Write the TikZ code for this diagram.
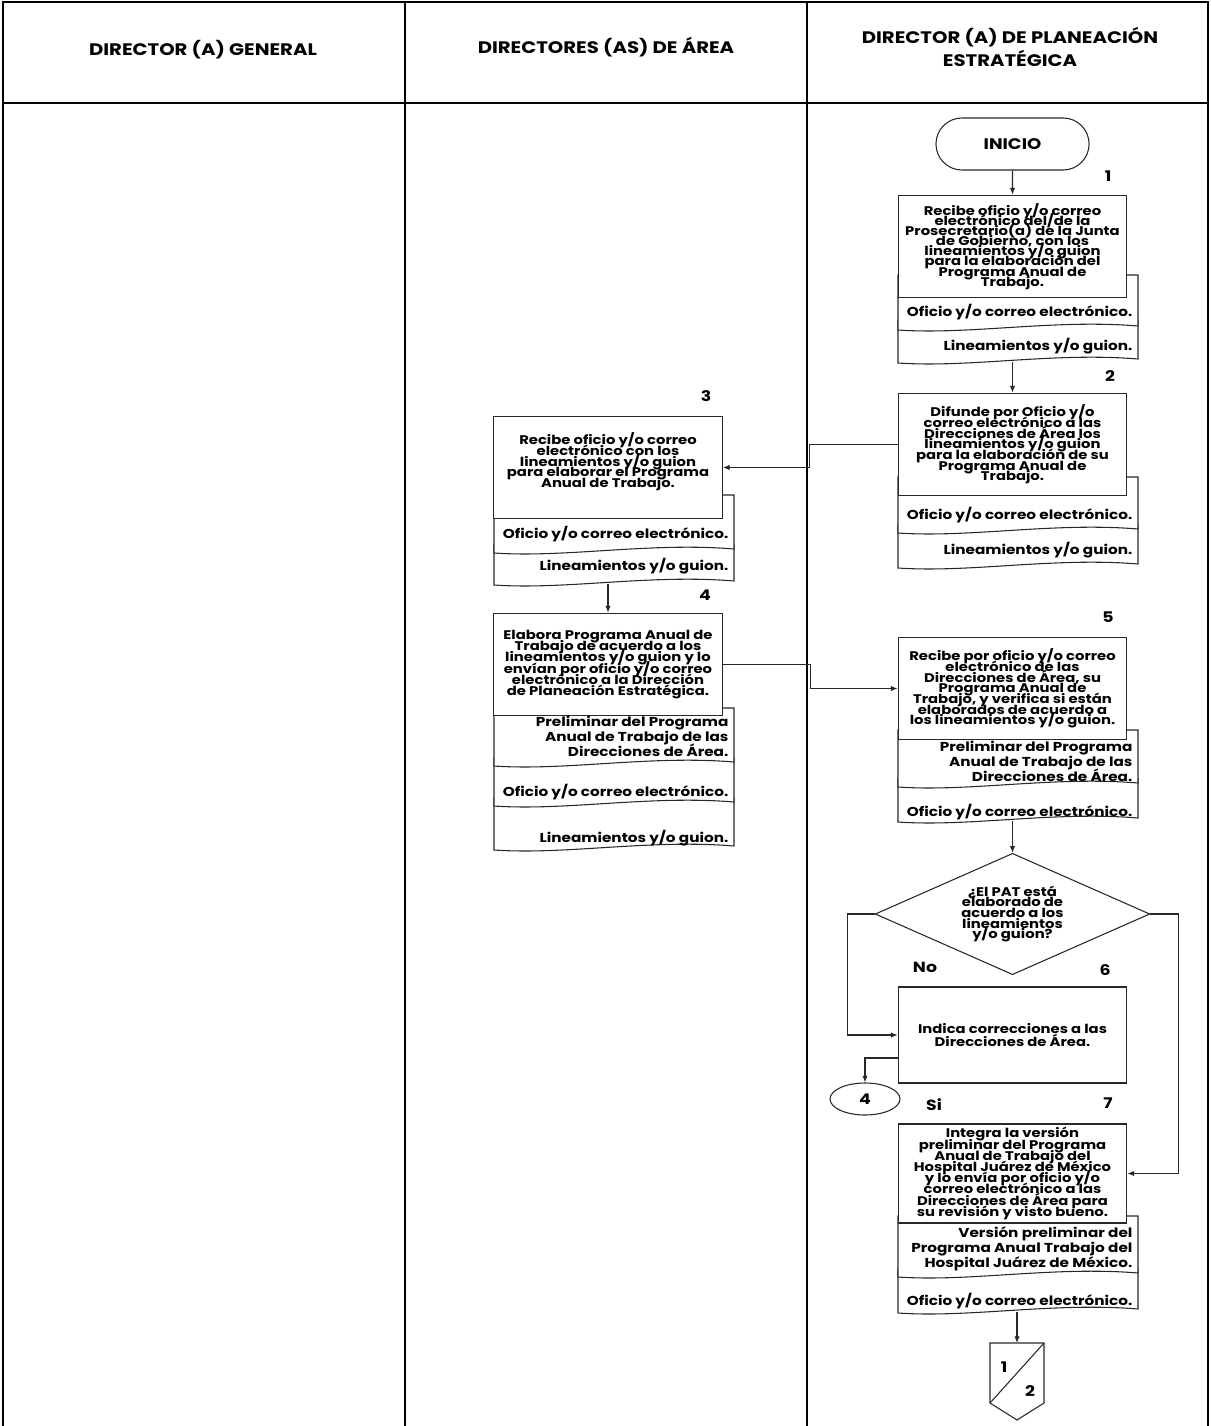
\documentclass[tikz,border=0pt]{standalone}
\usepackage{fontspec}
\setmainfont{Poppins}[FakeStretch=1.18]
\usetikzlibrary{arrows.meta,positioning,shapes.geometric,shapes.misc}
\definecolor{lineagris}{RGB}{40,40,40}

\newcommand{\tightlines}{\lineskiplimit -20pt\relax}
% document sheet with wavy lower edge: x1, ytop, x2, ybottom
\newcommand{\docsheet}[4]{%
  \draw[docline] (#1,#2) -- (#3,#2) -- (#3,{#4-4})
    .. controls ({#1+0.65*(#3-#1)},{#4-11}) and ({#1+0.3*(#3-#1)},{#4+5}) .. (#1,#4) -- cycle;}

\begin{document}
\begin{tikzpicture}[
    x=0.75pt,
    y=-0.75pt,
    >={Latex[length=5pt,width=4pt]},
    every node/.style={font=\bfseries},
    lane/.style={line width=2.2pt},
    proc/.style={draw=lineagris,fill=white,line width=0.8pt,minimum width=171.5pt,
      minimum height=77pt,align=center,inner sep=2pt,
      font=\bfseries\fontsize{9.4}{8}\selectfont\tightlines},
    docline/.style={draw=lineagris,fill=white,line width=0.8pt},
    doctext/.style={anchor=east,align=right,inner sep=1pt,
      font=\bfseries\fontsize{9.7}{11.25}\selectfont\tightlines},
    flow/.style={->,draw=lineagris,line width=0.8pt},
    paso/.style={font=\bfseries\fontsize{11}{12}\selectfont},
    lanetitle/.style={align=center,font=\bfseries\fontsize{12.5}{17}\selectfont}
]
  \path[use as bounding box,fill=white] (0,0) rectangle (1210,1426);

  % lanes
  \draw[lane] (3,1426) -- (3,2) -- (1208,2) -- (1208,1426);
  \draw[lane] (3,103) -- (1208,103);
  \draw[lane] (405,2) -- (405,1426);
  \draw[lane] (807,2) -- (807,1426);
  \node[lanetitle] (tgeneral) at (203,50) {DIRECTOR (A) GENERAL};
  \node[lanetitle] (tarea) at (606,47) {DIRECTORES (AS) DE ÁREA};
  \node[lanetitle] (tplaneacion) at (1010,47) {DIRECTOR (A) DE PLANEACIÓN\\ESTRATÉGICA};

  \node[draw=lineagris,line width=0.8pt,rounded rectangle,minimum width=121.5pt,
    minimum height=39pt,font=\bfseries\fontsize{11.5}{12}\selectfont] (inicio) at (1012.5,144) {INICIO};

  % step 1
  \docsheet{898}{320}{1138}{363}
  \docsheet{898}{275}{1138}{330}
  \node[proc,font=\bfseries\fontsize{9.4}{7.6}\selectfont\tightlines] (p1) at (1012.5,246.5) {Recibe oficio y/o correo\\electrónico del/de la\\Prosecretario(a) de la Junta\\de Gobierno, con los\\lineamientos y/o guion\\para la elaboración del\\Programa Anual de\\Trabajo.};
  \node[doctext] (d1a) at (1134,312) {Oficio y/o correo electrónico.};
  \node[doctext] (d1b) at (1134,346) {Lineamientos y/o guion.};
  \coordinate (s1) at (1012.5,362);
  \node[paso] (n1) at (1108,176) {1};

  % step 2
  \docsheet{898}{525}{1138}{568}
  \docsheet{898}{477}{1138}{533}
  \node[proc] (p2) at (1012.5,444.5) {Difunde por Oficio y/o\\correo electrónico a las\\Direcciones de Área los\\lineamientos y/o guion\\para la elaboración de su\\Programa Anual de\\Trabajo.};
  \node[doctext] (d2a) at (1134,515) {Oficio y/o correo electrónico.};
  \node[doctext] (d2b) at (1134,550) {Lineamientos y/o guion.};
  \node[paso] (n2) at (1110,376) {2};

  % step 3
  \docsheet{494}{545}{734}{585}
  \docsheet{494}{495}{734}{553}
  \node[proc] (p3) at (608,467.5) {Recibe oficio y/o correo\\electrónico con los\\lineamientos y/o guion\\para elaborar el Programa\\Anual de Trabajo.\\[3pt]};
  \node[doctext] (d3a) at (730,534) {Oficio y/o correo electrónico.};
  \node[doctext] (d3b) at (730,566) {Lineamientos y/o guion.};
  \coordinate (s3) at (608,584);
  \node[paso] (n3) at (706,396) {3};

  % step 4
  \docsheet{494}{798}{734}{850}
  \docsheet{494}{758}{734}{806}
  \docsheet{494}{708}{734}{766}
  \node[proc,font=\bfseries\fontsize{9.4}{8.4}\selectfont\tightlines] (p4) at (608,664.5) {Elabora Programa Anual de\\Trabajo de acuerdo a los\\lineamientos y/o guion y lo\\envían por oficio y/o correo\\electrónico a la Dirección\\de Planeación Estratégica.};
  \node[doctext] (d4a) at (730,736) {Preliminar del Programa\\Anual de Trabajo de las\\Direcciones de Área.};
  \node[doctext] (d4b) at (730,792) {Oficio y/o correo electrónico.};
  \node[doctext] (d4c) at (730,838) {Lineamientos y/o guion.};
  \node[paso] (n4) at (705,595) {4};

  % step 5
  \docsheet{898}{779}{1138}{822}
  \docsheet{898}{730}{1138}{787}
  \node[proc] (p5) at (1012.5,688.5) {Recibe por oficio y/o correo\\electrónico de las\\Direcciones de Área, su\\Programa Anual de\\Trabajo, y verifica si están\\elaborados de acuerdo a\\los lineamientos y/o guion.};
  \node[doctext] (d5a) at (1134,761) {Preliminar del Programa\\Anual de Trabajo de las\\Direcciones de Área.};
  \node[doctext] (d5b) at (1134,812) {Oficio y/o correo electrónico.};
  \coordinate (s5) at (1012.5,821);
  \node[paso] (n5) at (1108,617) {5};

  \node[draw=lineagris,line width=0.8pt,diamond,aspect=2.27,minimum width=206pt,minimum height=91pt,
    inner sep=0pt,align=center,font=\bfseries\fontsize{9.4}{7.9}\selectfont\tightlines]
    (dec) at (1012.5,914) {¿El PAT está\\elaborado de\\acuerdo a los\\lineamientos\\y/o guion?};
  \node[paso] (no) at (925,967) {No};
  \node[paso] (si) at (934,1105) {Si};

  % step 6
  \node[proc,minimum height=72pt,font=\bfseries\fontsize{9.4}{9.6}\selectfont\tightlines] (p6) at (1012.5,1035) {Indica correcciones a las\\Direcciones de Área.};
  \node[paso] (n6) at (1105,970) {6};
  \node[draw=lineagris,line width=0.8pt,ellipse,minimum width=52.5pt,minimum height=24pt,
    inner sep=0pt,paso] (c4) at (865,1099) {4};

  % step 7
  \docsheet{898}{1269}{1138}{1313}
  \docsheet{898}{1216}{1138}{1277}
  \node[proc,minimum height=74.25pt,font=\bfseries\fontsize{9.4}{8.4}\selectfont\tightlines] (p7) at (1012.5,1173.5) {Integra la versión\\preliminar del Programa\\Anual de Trabajo del\\Hospital Juárez de México\\y lo envía por oficio y/o\\correo electrónico a las\\Direcciones de Área para\\su revisión y visto bueno.};
  \node[doctext] (d7a) at (1134,1249) {Versión preliminar del\\Programa Anual Trabajo del\\Hospital Juárez de México.};
  \node[doctext] (d7b) at (1134,1301) {Oficio y/o correo electrónico.};
  \coordinate (s7) at (1017,1312);
  \node[paso] (n7) at (1108,1103) {7};

  % off-page connector
  \coordinate (off) at (1017,1343);
  \draw[docline] (990,1343) -- (1044,1343) -- (1044,1403) -- (1017,1420) -- (990,1403) -- cycle;
  \draw[docline] (990,1403) -- (1044,1343);
  \node[paso] (off1) at (1004,1367) {1};
  \node[paso] (off2) at (1030,1391) {2};

  % connectors
  \draw[flow] (inicio) -- (p1);
  \draw[flow] (s1) -- (s1 |- p2.north);
  \draw[flow] (p2.west) -- ++(-88,0) |- (p3.east);
  \draw[flow] (s3) -- (s3 |- p4.north);
  \draw[flow] (p4.east) -- ++(88,0) |- (p5.west);
  \draw[flow] (s5) -- (dec.north);
  \draw[flow] (dec.west) -- ++(-27,0) |- (p6.west);
  \draw[flow] (dec.east) -- ++(28,0) |- (p7.east);
  \draw[flow] ([yshift=-17.25pt]p6.west) -| (c4.north);
  \draw[flow] (s7) -- (off);
\end{tikzpicture}
\end{document}
